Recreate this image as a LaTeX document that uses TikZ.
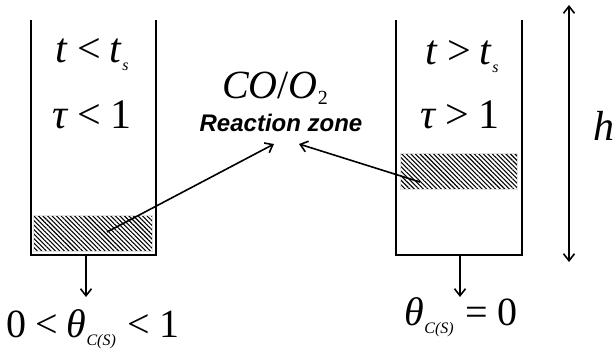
\documentclass[tikz,border=0pt]{standalone}
\usepackage{fontspec}
\setmainfont{Liberation Serif}
\newfontfamily\arialf{Liberation Sans}
\usetikzlibrary{patterns.meta,arrows.meta}
\newcommand{\sbs}[1]{\raisebox{-0.21em}{\fontsize{16}{16}\selectfont\textit{#1}}}
\newcommand{\rsp}{\hspace{0.22em}}
\begin{document}
\begin{tikzpicture}[x=1pt,y=-1pt,
  wall/.style={line width=2.4pt},
  hatchbox/.style={draw=black!12, line width=0.8pt, inner sep=0pt,
    pattern={Lines[angle=-45,distance=3.2pt,line width=1.1pt]}},
  lbl/.style={font=\fontsize{42}{44}\selectfont, inner sep=0pt, anchor=base},
  sublbl/.style={font=\fontsize{40}{42}\selectfont, inner sep=0pt, anchor=base},
  conn/.style={line width=1.6pt, -{Straight Barb[length=7pt,width=11pt,line width=1.6pt]}},
  dconn/.style={line width=1.6pt, {Straight Barb[length=7pt,width=11pt,line width=1.6pt]}-{Straight Barb[length=7pt,width=11pt,line width=1.6pt]}}
]
\useasboundingbox (0,0) rectangle (615,354);
\fill[white] (0,0) rectangle (615,354);

% left container
\draw[wall] (31,20) -- (31,255) -- (156,255) -- (156,20);
\node[hatchbox, minimum width=119pt, minimum height=36pt] (hL) at (93,233) {};
\node[lbl] (tL) at (92,62) {\textit{t}\rsp<\rsp\textit{t}\sbs{s}};
\node[lbl] (tauL) at (92,128) {\textit{τ}\rsp<\rsp1};

% right container
\draw[wall] (396,20) -- (396,255) -- (522,255) -- (522,20);
\node[hatchbox, minimum width=117pt, minimum height=36pt] (hR) at (459,171.5) {};
\node[lbl] (tR) at (462,64) {\textit{t}\rsp>\rsp\textit{t}\sbs{s}};
\node[lbl] (tauR) at (460,128) {\textit{τ}\rsp>\rsp1};

% reaction zone
\node[font=\fontsize{40}{42}\selectfont, inner sep=0pt, anchor=base] (co) at (275,98) {\textit{CO}/\textit{O}\raisebox{-0.17em}{\fontsize{20}{20}\selectfont 2}};
\node[font=\arialf\bfseries\itshape\fontsize{24}{26}\selectfont, inner sep=0pt] (rz) at (281,123) {Reaction zone};
\coordinate (rzL) at (274,144);
\coordinate (rzR) at (299,144);
\coordinate (aL) at (107,232);
\coordinate (aR) at (420,182);
\draw[conn] (aL) -- (rzL);
\draw[conn] (aR) -- (rzR);

% outflow arrows and labels
\coordinate (bL0) at (86,255);
\coordinate (bL1) at (86,297);
\coordinate (bR0) at (460,255);
\coordinate (bR1) at (460,297);
\draw[conn] (bL0) -- (bL1);
\draw[conn] (bR0) -- (bR1);
\node[sublbl] (thL) at (93,337) {0\rsp<\rsp\textit{θ}\sbs{C(S)}\hspace{0.3em}<\rsp1};
\node[sublbl] (thR) at (461,325) {\textit{θ}\sbs{C(S)}\hspace{0.3em}=\rsp0};

% height
\coordinate (hT) at (569,5);
\coordinate (hB) at (569,262);
\draw[dconn] (hT) -- (hB);
\node[font=\fontsize{42}{44}\selectfont, inner sep=0pt, anchor=base] (h) at (604,140) {\textit{h}};
\end{tikzpicture}
\end{document}
